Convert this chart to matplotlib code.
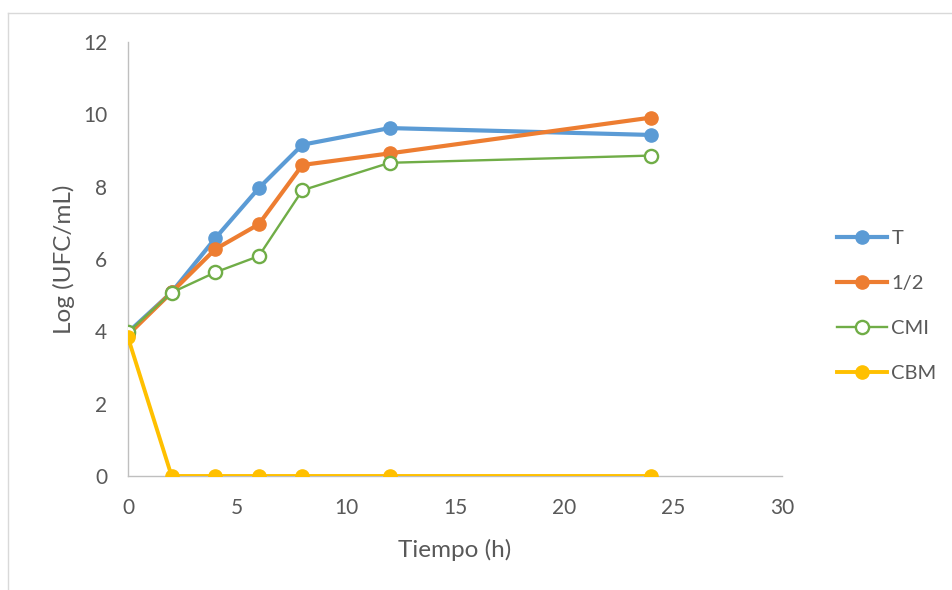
import matplotlib.pyplot as plt
from matplotlib.lines import Line2D

plt.rcParams['font.family'] = ['Lato', 'DejaVu Sans']

# sampling times (h)
tiempo = [0, 2, 4, 6, 8, 12, 24]

# log(UFC/mL) per treatment
y_T = [3.97, 5.08, 6.57, 7.96, 9.16, 9.62, 9.43]
y_half = [3.90, 5.08, 6.27, 6.96, 8.60, 8.92, 9.91]
y_CMI = [3.97, 5.07, 5.63, 6.08, 7.90, 8.66, 8.86]
y_CBM = [3.83, 0, 0, 0, 0, 0, 0]

labels = ['T', '1/2', 'CMI', 'CBM']
colors = ['#5B9BD5', '#ED7D31', '#70AD47', '#FFC000']

fig = plt.figure(figsize=(9.52, 5.9), dpi=100)
ax = fig.add_axes([128/952, 1 - 476/590, (782 - 128)/952, (476 - 42)/590])

ax.plot(tiempo, y_T, color=colors[0], lw=3, marker='o', ms=9.5, label=labels[0], zorder=3)
ax.plot(tiempo, y_half, color=colors[1], lw=3, marker='o', ms=9.5, label=labels[1], zorder=3)
ax.plot(tiempo, y_CMI, color=colors[2], lw=1.7, marker='o', ms=9.5, mfc='white',
        mew=1.7, label=labels[2], zorder=4)
ax.plot(tiempo, y_CBM, color=colors[3], lw=2.8, marker='o', ms=9.5, label=labels[3], zorder=5)

ax.set_xlim(0, 30)
ax.set_ylim(0, 12)
ax.set_xticks(range(0, 31, 5))
ax.set_yticks(range(0, 13, 2))

for s in ['top', 'right']:
    ax.spines[s].set_visible(False)
for s in ['left', 'bottom']:
    ax.spines[s].set_color('#BFBFBF')
    ax.spines[s].set_linewidth(1)
ax.tick_params(length=0, labelsize=15, labelcolor='#595959')
ax.tick_params(axis='y', pad=15)
ax.tick_params(axis='x', pad=16)
ax.patch.set_visible(False)

ax.set_xlabel('Tiempo (h)', fontsize=17.5, color='#595959', labelpad=15)
ax.set_ylabel('Log (UFC/mL)', fontsize=17.5, color='#595959', labelpad=6)

handles, lbls = ax.get_legend_handles_labels()
leg = fig.legend(handles, lbls, loc='center left', bbox_to_anchor=(819/952, 1 - 306/590),
                 frameon=False, fontsize=14.5, handlelength=2.5, labelspacing=1.4,
                 handletextpad=0.2, labelcolor='#595959')

# outer chart frame (cut at the right/bottom edges)
fig.add_artist(Line2D([8/952, 1], [1 - 13/590, 1 - 13/590], color='#D9D9D9', lw=1))
fig.add_artist(Line2D([8/952, 8/952], [0, 1 - 13/590], color='#D9D9D9', lw=1))

fig.savefig('out.png', dpi=100)
